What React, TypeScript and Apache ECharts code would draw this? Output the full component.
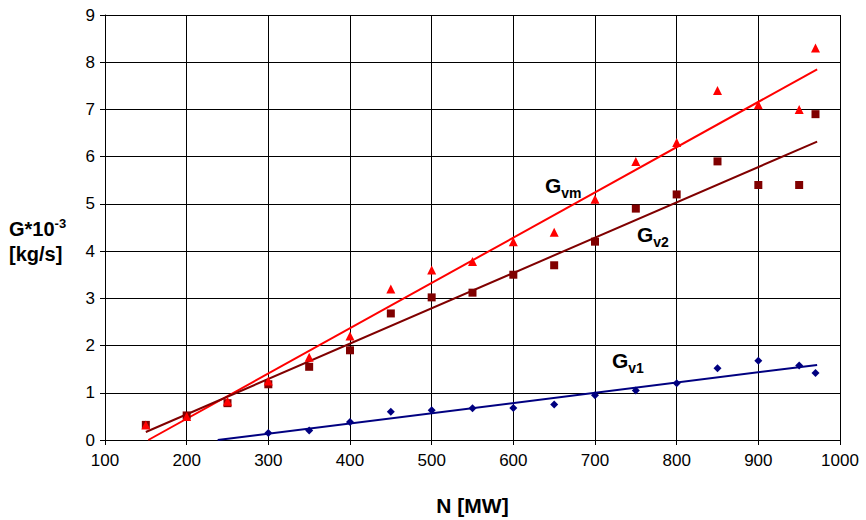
import React, { useEffect, useRef } from "react";
import * as echarts from "echarts";

const nGvm = [150, 200, 250, 300, 350, 400, 450, 500, 550, 600, 650, 700, 750, 800, 850, 900, 950, 970];
const valGvm = [0.32, 0.5, 0.82, 1.25, 1.75, 2.2, 3.2, 3.6, 3.78, 4.2, 4.4, 5.1, 5.9, 6.3, 7.4, 7.1, 7.0, 8.3];
const nGv2 = [150, 200, 250, 300, 350, 400, 450, 500, 550, 600, 650, 700, 750, 800, 850, 900, 950, 970];
const valGv2 = [0.32, 0.52, 0.78, 1.18, 1.55, 1.9, 2.68, 3.02, 3.12, 3.5, 3.7, 4.2, 4.9, 5.2, 5.9, 5.4, 5.4, 6.9];
const nGv1 = [300, 350, 400, 450, 500, 550, 600, 650, 700, 750, 800, 850, 900, 950, 970];
const valGv1 = [0.15, 0.2, 0.38, 0.6, 0.63, 0.67, 0.68, 0.75, 0.95, 1.05, 1.2, 1.52, 1.68, 1.58, 1.42];

const trendGvmN = [153, 972];
const trendGvmVal = [0.0, 7.85];
const trendGv2N = [150, 972];
const trendGv2Val = [0.17, 6.32];
const trendGv1N = [238, 972];
const trendGv1Val = [0.0, 1.59];

const xTicks = [100, 200, 300, 400, 500, 600, 700, 800, 900, 1000];
const yTicks = [0, 1, 2, 3, 4, 5, 6, 7, 8, 9];

const zip = (a: number[], b: number[]) => a.map((v, i) => [v, b[i]]);

const FONT = "Liberation Sans, Arial, sans-serif";

export default function App() {
  const ref = useRef<HTMLDivElement>(null);
  useEffect(() => {
    if (!ref.current) return;
    const chart = echarts.init(ref.current, undefined, { renderer: "svg" });
    const subLabel = (x: number, y: number, main: string, sub: string) => ({
      type: "text",
      left: x,
      top: y,
      style: {
        text: `{m|${main}}{s|${sub}}`,
        rich: {
          m: { fontFamily: FONT, fontSize: 21, fontWeight: "bold", fill: "#000", verticalAlign: "bottom", lineHeight: 24 },
          s: { fontFamily: FONT, fontSize: 14, fontWeight: "bold", fill: "#000", verticalAlign: "bottom", lineHeight: 16, padding: [0, 0, -4, 0] },
        },
      },
    });
    chart.setOption({
      animation: false,
      backgroundColor: "#fff",
      grid: { left: 105, right: 26, top: 15, bottom: 80, containLabel: false, outerBoundsMode: "none" },
      xAxis: {
        type: "value",
        min: xTicks[0],
        max: xTicks[xTicks.length - 1],
        interval: 100,
        name: "N [MW]",
        nameLocation: "middle",
        nameGap: 55,
        nameTextStyle: { fontFamily: FONT, fontSize: 21, fontWeight: "bold", color: "#000" },
        axisLine: { show: true, onZero: false, lineStyle: { color: "#000", width: 1 } },
        axisTick: { show: true, length: 5, inside: false, lineStyle: { color: "#000" } },
        axisLabel: { fontFamily: FONT, fontSize: 17, color: "#000", margin: 12, formatter: (v: number) => String(v) },
        splitLine: { show: true, lineStyle: { color: "#000", width: 1 } },
      },
      yAxis: {
        type: "value",
        min: yTicks[0],
        max: yTicks[yTicks.length - 1],
        interval: 1,
        axisLine: { show: true, lineStyle: { color: "#000", width: 1 } },
        axisTick: { show: true, length: 5, inside: false, lineStyle: { color: "#000" } },
        axisLabel: { fontFamily: FONT, fontSize: 17, color: "#000", margin: 10 },
        splitLine: { show: true, lineStyle: { color: "#000", width: 1 } },
      },
      graphic: [
        {
          type: "text",
          left: 9,
          top: 217,
          style: {
            text: "{m|G*10}{s|-3}\n{m|[kg/s]}",
            rich: {
              m: { fontFamily: FONT, fontSize: 20, fontWeight: "bold", fill: "#000", lineHeight: 25 },
              s: { fontFamily: FONT, fontSize: 13, fontWeight: "bold", fill: "#000", lineHeight: 25, padding: [0, 0, 10, 0] },
            },
          },
        },
        subLabel(545, 175, "G", "vm"),
        subLabel(637, 224, "G", "v2"),
        subLabel(612, 350, "G", "v1"),
      ],
      series: [
        { type: "line", data: zip(trendGvmN, trendGvmVal), showSymbol: false, lineStyle: { color: "#ff0000", width: 2 }, z: 2 },
        { type: "line", data: zip(trendGv2N, trendGv2Val), showSymbol: false, lineStyle: { color: "#800000", width: 2 }, z: 2 },
        { type: "line", data: zip(trendGv1N, trendGv1Val), showSymbol: false, lineStyle: { color: "#000080", width: 2 }, z: 2 },
        { type: "scatter", name: "Gv2", data: zip(nGv2, valGv2), symbol: "rect", symbolSize: 8, itemStyle: { color: "#800000", opacity: 1 }, z: 3 },
        { type: "scatter", name: "Gvm", data: zip(nGvm, valGvm), symbol: "triangle", symbolSize: 9, itemStyle: { color: "#ff0000", opacity: 1 }, z: 4 },
        { type: "scatter", name: "Gv1", data: zip(nGv1, valGv1), symbol: "diamond", symbolSize: 8, itemStyle: { color: "#000080", opacity: 1 }, z: 3 },
      ],
    });
    return () => chart.dispose();
  }, []);
  return <div ref={ref} style={{ position: "fixed", left: 0, top: 0, width: 866, height: 520 }} />;
}
